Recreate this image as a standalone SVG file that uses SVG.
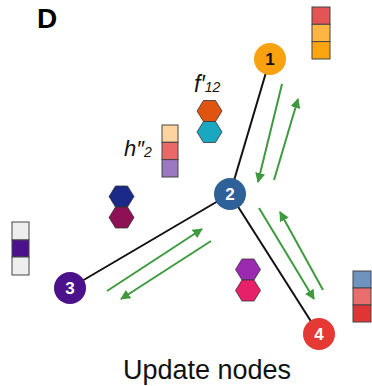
<svg xmlns="http://www.w3.org/2000/svg" width="372" height="386" viewBox="0 0 372 386">
<style>
.edge{stroke:#111;stroke-width:2;fill:none}
.arr{stroke:#3E9A3E;stroke-width:2;fill:none;marker-end:url(#ah)}
.cell{stroke:#444;stroke-width:1}
.hex{stroke:#333;stroke-width:0.8}
.nl{font-family:"Liberation Sans",Arial,sans-serif;font-weight:bold;font-size:17px;fill:#fff;text-anchor:middle}
.lab{font-family:"Liberation Sans",Arial,sans-serif;font-style:italic;fill:#111}
</style>
<defs>
<marker id="ah" viewBox="0 0 10 10" refX="9" refY="5" markerWidth="5" markerHeight="5" orient="auto" markerUnits="strokeWidth">
<path d="M0,0 L10,5 L0,10 z" fill="#3E9A3E"/>
</marker>
<path id="hx" d="M-12.5,0 L-6,-10.5 L6,-10.5 L12.5,0 L6,10.5 L-6,10.5 z"/>
</defs>
<rect width="372" height="386" fill="#fff"/>
<text x="37" y="28" font-family="Liberation Sans,Arial,sans-serif" font-weight="bold" font-size="28" fill="#000">D</text>
<g id="edges">
<line class="edge" x1="270" y1="59" x2="230" y2="194"/>
<line class="edge" x1="230" y1="194" x2="70" y2="288"/>
<line class="edge" x1="230" y1="194" x2="319" y2="334"/>
<line class="arr" x1="282" y1="84" x2="258" y2="182"/>
<line class="arr" x1="274" y1="180" x2="298" y2="99"/>
<line class="arr" x1="107" y1="291" x2="202" y2="229"/>
<line class="arr" x1="211" y1="241" x2="121" y2="299"/>
<line class="arr" x1="259" y1="208" x2="314" y2="299"/>
<line class="arr" x1="323" y1="290" x2="280" y2="212"/>
</g>
<g id="node1"><circle cx="270" cy="59" r="16" fill="#F9A10E"/><text class="nl" x="270" y="65" style="fill:#111">1</text></g>
<g id="node2"><circle cx="230" cy="194" r="16" fill="#2F6199"/><text class="nl" x="230" y="200">2</text></g>
<g id="node3"><circle cx="70" cy="288" r="16" fill="#4B128B"/><text class="nl" x="70" y="294">3</text></g>
<g id="node4"><circle cx="319" cy="334" r="16" fill="#E53935"/><text class="nl" x="319" y="340">4</text></g>
<g id="vec1">
<rect class="cell" x="312" y="7" width="18" height="17.3" fill="#E35555"/>
<rect class="cell" x="312" y="24.3" width="18" height="17.3" fill="#FDB544"/>
<rect class="cell" x="312" y="41.6" width="18" height="17.4" fill="#FDA412"/>
</g>
<g id="vec-h2">
<rect class="cell" x="162" y="125" width="16" height="17.3" fill="#FDD49D"/>
<rect class="cell" x="162" y="142.3" width="16" height="17.3" fill="#EA6868"/>
<rect class="cell" x="162" y="159.6" width="16" height="17.4" fill="#9B78C0"/>
<text class="lab" x="124" y="156" font-size="22">h″<tspan font-size="14" dy="1">2</tspan></text>
</g>
<g id="vec3">
<rect class="cell" x="12" y="222" width="17" height="18" fill="#EEEEEE"/>
<rect class="cell" x="12" y="240" width="17" height="17" fill="#4B128B"/>
<rect class="cell" x="12" y="257" width="17" height="18" fill="#EEEEEE"/>
</g>
<g id="vec4">
<rect class="cell" x="353" y="271" width="18" height="17" fill="#6E93BE"/>
<rect class="cell" x="353" y="288" width="18" height="17" fill="#EA6E6E"/>
<rect class="cell" x="353" y="305" width="18" height="17" fill="#E03535"/>
</g>
<g id="edge-f12">
<use href="#hx" class="hex" x="209.5" y="111" fill="#E05410"/>
<use href="#hx" class="hex" x="209.5" y="132" fill="#1AA7C0"/>
<text class="lab" x="194" y="92" font-size="23">f′<tspan font-size="14">12</tspan></text>
</g>
<g id="edge-f23">
<use href="#hx" class="hex" x="121.5" y="196.5" fill="#1B2A88"/>
<use href="#hx" class="hex" x="121.5" y="217.5" fill="#8E1055"/>
</g>
<g id="edge-f24">
<use href="#hx" class="hex" x="248" y="269.5" fill="#9C2AB0"/>
<use href="#hx" class="hex" x="248" y="290.5" fill="#E8206A"/>
</g>
<text x="207" y="379" font-family="Liberation Sans,Arial,sans-serif" font-size="27" fill="#111" text-anchor="middle">Update nodes</text>
</svg>
